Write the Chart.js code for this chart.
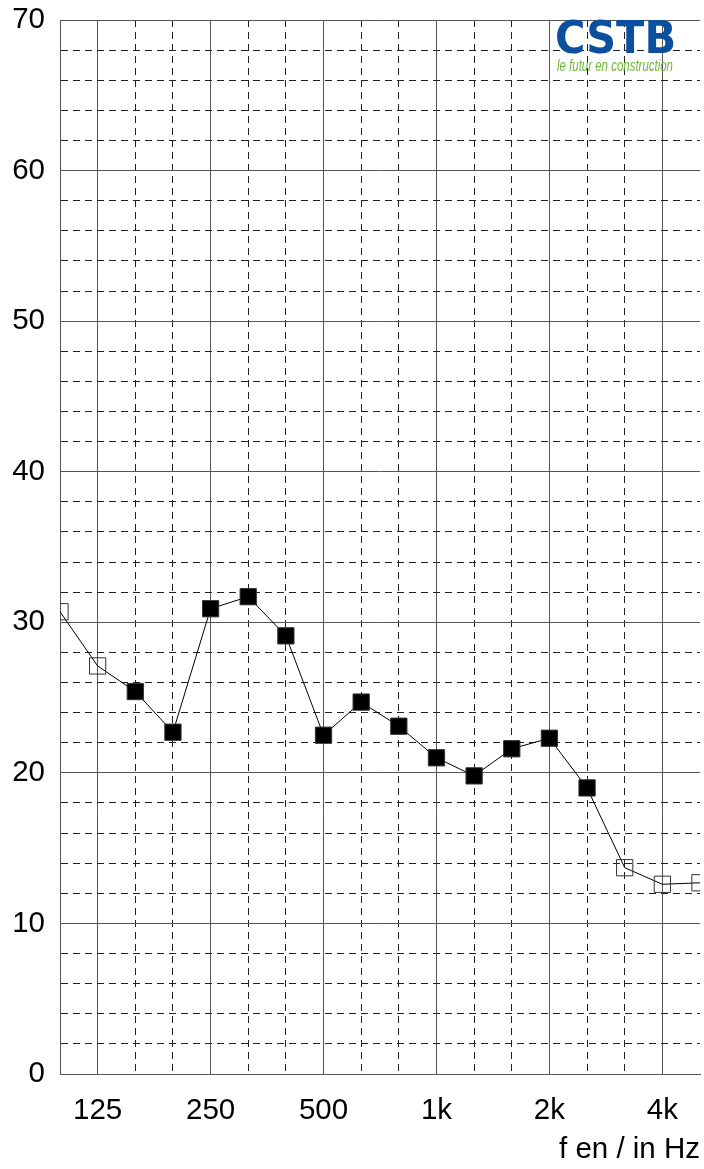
<!DOCTYPE html>
<html>
<head>
<meta charset="utf-8">
<script src="https://cdn.jsdelivr.net/npm/chart.js@4/dist/chart.umd.min.js"></script>
<style>
  body { margin: 0; background: #fff; }
  canvas { display: block; }
</style>
</head>
<body>
<canvas id="curve" width="704" height="1169"></canvas>
<script>
// third-octave bands, 100 Hz .. 5 kHz
const freqs = [100, 125, 160, 200, 250, 315, 400, 500, 630, 800, 1000, 1250, 1600, 2000, 2500, 3150, 4000, 5000];
const levels = [30.7, 27.1, 25.4, 22.7, 30.9, 31.7, 29.1, 22.5, 24.7, 23.1, 21.0, 19.8, 21.6, 22.3, 19.0, 13.7, 12.6, 12.7];
// filled squares = inside the evaluated range, open squares outside
const filled = [false, false, true, true, true, true, true, true, true, true, true, true, true, true, true, false, false, false];
const xTickLabels = ['', '125', '', '', '250', '', '', '500', '', '', '1k', '', '', '2k', '', '', '4k', ''];
const solidX = [0, 1, 4, 7, 10, 13, 16];

const FONT = '"Liberation Sans", Arial, sans-serif';
const DASH = [7, 5];

// CSTB logo in the top right corner
const logo = {
  id: 'logo',
  afterDraw(chart) {
    const ctx = chart.ctx;
    ctx.save();
    ctx.textAlign = 'left';
    ctx.textBaseline = 'alphabetic';
    ctx.fillStyle = '#0d4f9f';
    ctx.font = 'bold 45px "DejaVu Sans", sans-serif';
    ctx.fillText('CSTB', 555, 53, 121);
    ctx.fillStyle = '#6fb63c';
    ctx.font = 'italic 16px ' + FONT;
    ctx.fillText('le futur en construction', 557, 71, 116);
    ctx.restore();
  }
};

new Chart(document.getElementById('curve').getContext('2d'), {
  type: 'line',
  data: {
    labels: freqs.map(String),
    datasets: [{
      data: levels,
      borderColor: '#000',
      borderWidth: 1,
      tension: 0,
      clip: 0,
      pointStyle: 'rect',
      pointRadius: 11.5,
      pointBorderWidth: 1,
      pointBorderColor: '#333',
      pointBackgroundColor: filled.map(f => f ? '#000' : 'rgba(0,0,0,0)')
    }]
  },
  options: {
    responsive: false,
    animation: false,
    events: [],
    layout: { autoPadding: false, padding: { top: 20, right: 4, left: 0, bottom: 0 } },
    plugins: { legend: { display: false }, tooltip: { enabled: false } },
    scales: {
      x: {
        type: 'category',
        afterFit: s => {
          s.height = 95;
          s.paddingLeft = 0;
          s.paddingRight = 0;
        },
        grid: {
          drawTicks: false,
          color: c => c.index === freqs.length - 1 ? 'rgba(0,0,0,0)'
            : solidX.includes(c.index) ? '#555' : '#222'
        },
        border: {
          display: true,
          color: '#555',
          dash: c => (c.index !== undefined && !solidX.includes(c.index)) ? DASH : []
        },
        ticks: {
          autoSkip: false,
          maxRotation: 0,
          padding: 19,
          color: '#000',
          font: { family: FONT, size: 29.5 },
          callback: (v, i) => xTickLabels[i]
        },
        title: {
          display: true,
          text: 'f en / in Hz',
          align: 'end',
          color: '#000',
          font: { family: FONT, size: 29.5 },
          padding: { top: 0, bottom: 1.5 }
        }
      },
      y: {
        min: 0,
        max: 70,
        afterFit: s => {
          s.width = 60;
          s.paddingTop = 0;
          s.paddingBottom = 0;
        },
        grid: {
          drawTicks: false,
          color: c => c.tick && c.tick.value % 10 === 0 ? '#555' : '#222'
        },
        border: {
          display: true,
          color: '#555',
          dash: c => (c.tick && c.tick.value % 10 !== 0) ? DASH : []
        },
        ticks: {
          stepSize: 2,
          maxTicksLimit: 100,
          autoSkip: false,
          padding: 15,
          color: '#000',
          font: { family: FONT, size: 29.5 },
          callback: v => v % 10 === 0 ? String(v) : ''
        }
      }
    }
  },
  plugins: [logo]
});
</script>
</body>
</html>
